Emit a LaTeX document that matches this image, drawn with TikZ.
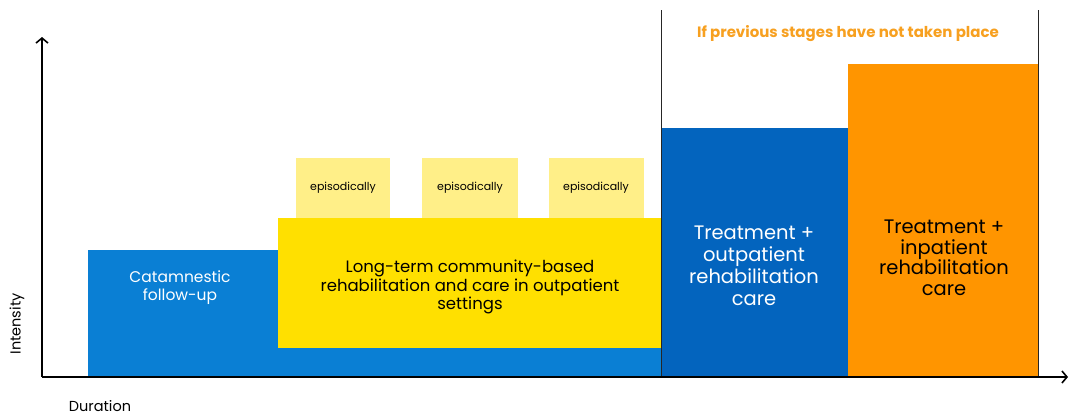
\documentclass[tikz,border=0pt]{standalone}
\usepackage{fontspec}
\setmainfont{Poppins}
\usetikzlibrary{arrows.meta}
\definecolor{cblue}{HTML}{0A7FD4}
\definecolor{dblue}{HTML}{0364BE}
\definecolor{cyel}{HTML}{FFE000}
\definecolor{lyel}{HTML}{FFEF88}
\definecolor{corange}{HTML}{FF9500}
\definecolor{hdr}{HTML}{F7A020}
\tikzset{
  lbl/.style={align=center, inner sep=0pt},
  axis/.style={line width=1.6pt, -{Straight Barb[length=5pt,width=12pt,line width=1.6pt]}},
  sep/.style={line width=1pt, black!85},
}
\begin{document}
\begin{tikzpicture}[x=1pt,y=-1pt]
\useasboundingbox (0,0) rectangle (1073,416);
% blocks
\fill[cblue] (88,250) rectangle (661,377);
\fill[cyel] (278,218) rectangle (661,348);
\fill[lyel] (296,158) rectangle (390,218);
\fill[lyel] (422,158) rectangle (518,218);
\fill[lyel] (549,158) rectangle (644,218);
\fill[dblue] (661,128) rectangle (848,377);
\fill[corange] (848,64) rectangle (1038,377);
% nodes
\node[lbl, text=white, font=\fontsize{15.5}{18}\selectfont] (catt) at (180,288) {Catamnestic\\follow-up};
\node[lbl, font=\fontsize{16.5}{18.5}\selectfont] (lt) at (470,287) {Long-term community-based\\rehabilitation and care in outpatient\\settings};
\node[lbl, font=\fontsize{11}{12}\selectfont] (e1) at (343,188) {episodically};
\node[lbl, font=\fontsize{11}{12}\selectfont] (e2) at (470,188) {episodically};
\node[lbl, font=\fontsize{11}{12}\selectfont] (e3) at (596,188) {episodically};
\node[lbl, text=white, font=\fontsize{19.5}{22}\selectfont] (to) at (754,266) {Treatment +\\outpatient\\rehabilitation\\care};
\node[lbl, font=\fontsize{19.5}{20.5}\selectfont] (ti) at (944,258) {Treatment +\\inpatient\\rehabilitation\\care};
\node[lbl, text=hdr, font=\bfseries\fontsize{15}{17}\selectfont] (hd) at (848,34) {If previous stages have not taken place};
\node[lbl, rotate=90, font=\fontsize{14.5}{16}\selectfont] (yl) at (17,324) {Intensity};
\node[lbl, font=\fontsize{14.5}{16}\selectfont] (xl) at (100,406) {Duration};
% separators
\coordinate (s1t) at (661,10);
\coordinate (s1b) at (661,377);
\coordinate (s2t) at (1038,10);
\coordinate (s2b) at (1038,377);
\draw[sep] (s1t) -- (s1b);
\draw[sep] (s2t) -- (s2b);
% axes
\coordinate (o) at (42,377);
\coordinate (yt) at (42,37);
\coordinate (xr) at (1068,377);
\draw[axis] (o) -- (yt);
\draw[axis] (o) -- (xr);
\end{tikzpicture}
\end{document}
